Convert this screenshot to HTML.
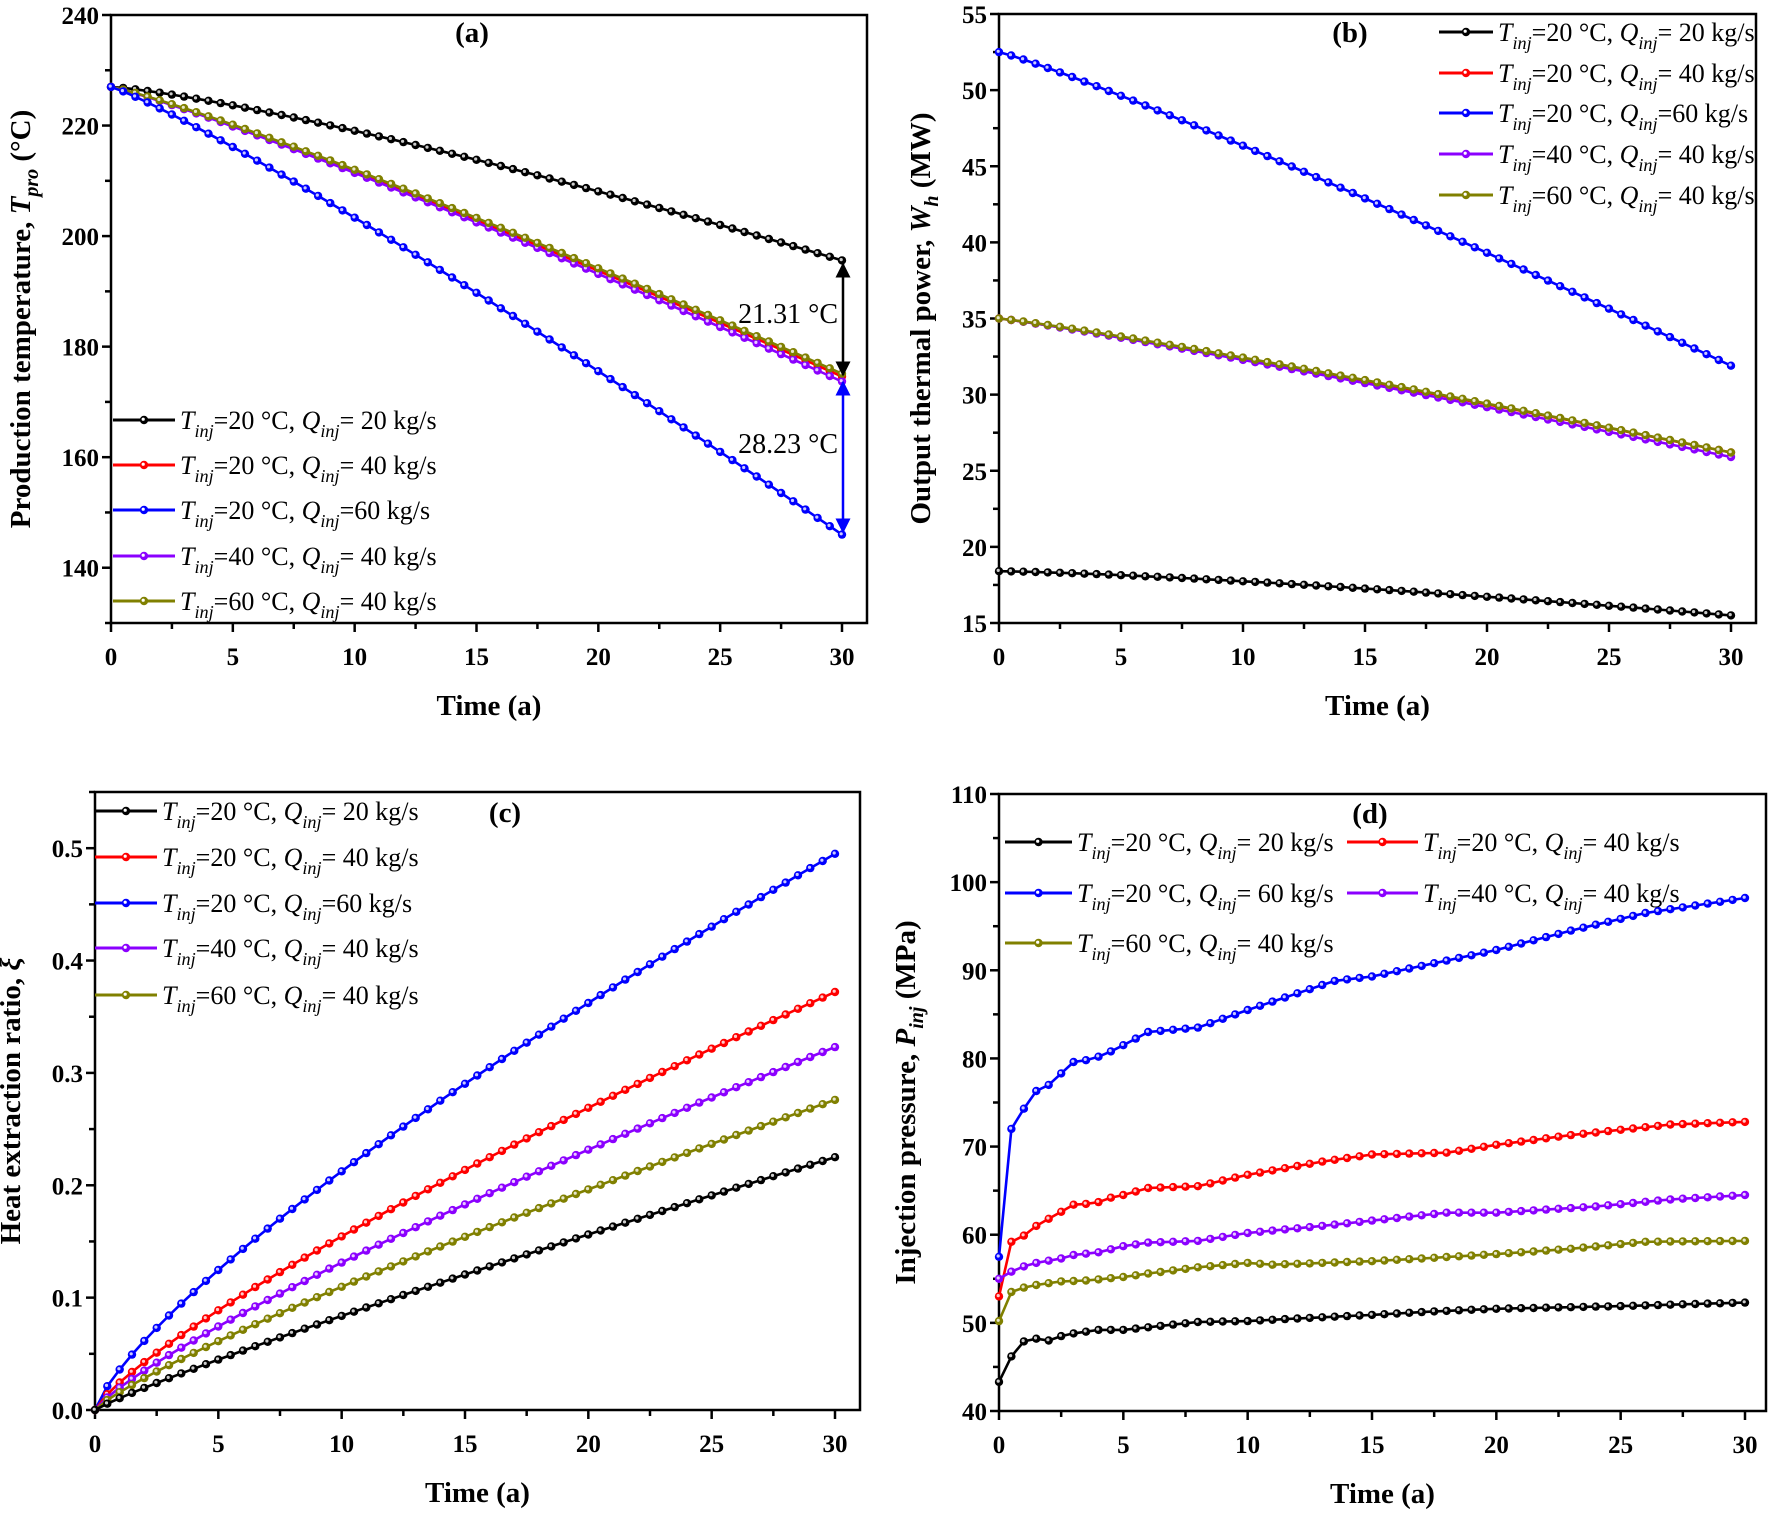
<!DOCTYPE html>
<html><head><meta charset="utf-8"><style>
html,body{margin:0;padding:0;background:#fff;}
svg{display:block;font-family:"Liberation Serif",serif;}
</style></head><body>
<svg id="s" width="1771" height="1514" viewBox="0 0 1771 1514" xmlns="http://www.w3.org/2000/svg"></svg>
<script>
const S=document.getElementById('s');let out='';
const C={k:'#000',r:'#f00',b:'#0000ff',p:'#8b00ff',o:'#808000'};
function lin(pts,t){for(let i=0;i<pts.length-1;i++){if(t<=pts[i+1][0]){const a=pts[i],b=pts[i+1];return a[1]+(b[1]-a[1])*(t-a[0])/(b[0]-a[0]);}}return pts[pts.length-1][1];}
function panel(P){
 const X=t=>P.x0+(P.x30-P.x0)*t/30, Y=v=>P.B-(v-P.ymin)*(P.B-P.T)/(P.ymax-P.ymin);
 P.X=X;P.Y=Y;
 out+=`<rect x="${P.L}" y="${P.T}" width="${P.R-P.L}" height="${P.B-P.T}" fill="none" stroke="#000" stroke-width="2.5"/>`;
 for(let t=0;t<=30.01;t+=2.5){const maj=Math.abs(t%5)<0.01;out+=`<line x1="${X(t)}" y1="${P.B}" x2="${X(t)}" y2="${P.B+(maj?9:6)}" stroke="#000" stroke-width="2.5"/>`;
  if(maj)out+=`<text x="${X(t)}" y="${P.B+42}" font-size="25" font-weight="bold" text-anchor="middle">${t}</text>`;}
 for(let v=P.ymin;v<=P.ymax+1e-9;v+=P.minor){const k=Math.round((v-P.ymin)/P.minor);const maj=k%2==(P.majOff||0);
  out+=`<line x1="${P.L-(maj?9:6)}" y1="${Y(v)}" x2="${P.L}" y2="${Y(v)}" stroke="#000" stroke-width="2.5"/>`;
  if(maj&&v>=P.labMin-1e-9&&v<=P.labMax+1e-9)out+=`<text x="${P.L-12}" y="${Y(v)+9}" font-size="25" font-weight="bold" text-anchor="end">${P.fmt(v)}</text>`;}
 out+=`<text x="${(P.L+P.R)/2}" y="${P.B+92}" font-size="29" font-weight="bold" text-anchor="middle">Time (a)</text>`;
 out+=`<text transform="translate(${P.ylx},${(P.T+P.B)/2}) rotate(-90)" font-size="29" font-weight="bold" text-anchor="middle">${P.ylab}</text>`;
 out+=`<text x="${P.lx}" y="${P.ly}" font-size="29" font-weight="bold" text-anchor="middle">${P.lab}</text>`;
}
function series(P,col,f){let d='',m='';for(let i=0;i<=60;i++){const t=i/2,x=P.X(t),y=P.Y(f(t));d+=(i?'L':'M')+x.toFixed(1)+' '+y.toFixed(1);
 m+=`<circle cx="${x.toFixed(1)}" cy="${y.toFixed(1)}" r="4.2" fill="${col}"/><circle cx="${(x-0.8).toFixed(1)}" cy="${(y-0.8).toFixed(1)}" r="1.6" fill="#fff" opacity="0.8"/>`;}
 out+=`<path d="${d}" fill="none" stroke="${col}" stroke-width="2.6"/>`+m;}
function leg(x1,x2,y,col,tv,qv,fs){out+=`<line x1="${x1}" y1="${y}" x2="${x2}" y2="${y}" stroke="${col}" stroke-width="3"/><circle cx="${(x1+x2)/2}" cy="${y}" r="4.2" fill="${col}"/><circle cx="${(x1+x2)/2-0.8}" cy="${y-0.8}" r="1.6" fill="#fff"/>`;
 out+=`<text x="${x2+5}" y="${y+9}" font-size="${fs}"><tspan font-style="italic">T</tspan><tspan font-style="italic" font-size="${fs*0.7}" dy="8">inj</tspan><tspan dy="-8">=${tv} °C, </tspan><tspan font-style="italic">Q</tspan><tspan font-style="italic" font-size="${fs*0.7}" dy="8">inj</tspan><tspan dy="-8">=${qv} kg/s</tspan></text>`;}
const LG=[['k',20,' 20'],['r',20,' 40'],['b',20,'60'],['p',40,' 40'],['o',60,' 40']];
const pw=(a,b,p)=>t=>a-(a-b)*Math.pow(t/30,p);
// (a)
const A={L:111,R:867,T:15,B:623,x0:111,x30:842,ymin:130,ymax:240,minor:10,majOff:1,labMin:140,labMax:240,fmt:v=>v,ylx:30,ylab:'Production temperature, <tspan font-style="italic">T</tspan><tspan font-style="italic" font-size="20" dy="8">pro</tspan><tspan dy="-8"> (°C)</tspan>',lab:'(a)',lx:472,ly:42};
panel(A);
series(A,C.k,pw(227,195.6,1.25));series(A,C.r,pw(227,174.6,1.12));series(A,C.p,pw(227,173.7,1.12));series(A,C.o,pw(227,175.1,1.13));series(A,C.b,pw(227,146,1.12));
out+=`<defs><marker id="ak" viewBox="0 0 10 10" refX="9" refY="5" markerWidth="6" markerHeight="6" orient="auto-start-reverse"><path d="M0 0L10 5L0 10z" fill="#000"/></marker><marker id="ab" viewBox="0 0 10 10" refX="9" refY="5" markerWidth="6" markerHeight="6" orient="auto-start-reverse"><path d="M0 0L10 5L0 10z" fill="#0000ff"/></marker></defs>`;
out+=`<line x1="843" y1="264" x2="843" y2="375" stroke="#000" stroke-width="2.5" marker-start="url(#ak)" marker-end="url(#ak)"/>`;
out+=`<line x1="843" y1="382" x2="843" y2="532" stroke="#0000ff" stroke-width="2.5" marker-start="url(#ab)" marker-end="url(#ab)"/>`;
out+=`<text x="838" y="323" font-size="28" text-anchor="end">21.31 °C</text><text x="838" y="453" font-size="28" text-anchor="end">28.23 °C</text>`;
[420,465,510,556,601].forEach((y,i)=>leg(113,175,y,C[LG[i][0]],LG[i][1],LG[i][2],26));
// (b)
const B={L:999,R:1756,T:14,B:623,x0:999,x30:1731,ymin:15,ymax:55,minor:2.5,labMin:15,labMax:55,fmt:v=>v,ylx:930,ylab:'Output thermal power, <tspan font-style="italic">W</tspan><tspan font-style="italic" font-size="20" dy="8">h</tspan><tspan dy="-8"> (MW)</tspan>',lab:'(b)',lx:1350,ly:42};
panel(B);
series(B,C.b,pw(52.5,31.9,1.1));series(B,C.r,pw(35,26.2,1.1));series(B,C.p,pw(35,25.9,1.1));series(B,C.o,pw(35,26.2,1.12));series(B,C.k,pw(18.4,15.5,1.35));
[32,73,113,154,195].forEach((y,i)=>leg(1439,1493,y,C[LG[i][0]],LG[i][1],LG[i][2],26));
// (c)
const Cp={L:95,R:860,T:792,B:1410,x0:95,x30:835,ymin:0,ymax:0.55,minor:0.05,labMin:0,labMax:0.5,fmt:v=>v.toFixed(1),ylx:20,ylab:'Heat extraction ratio, <tspan font-style="italic">ξ</tspan>',lab:'(c)',lx:505,ly:822};
panel(Cp);
const pc=(b,p)=>t=>b*Math.pow(t/30,p);
series(Cp,C.b,pc(0.495,0.77));series(Cp,C.r,pc(0.372,0.8));series(Cp,C.p,pc(0.323,0.82));series(Cp,C.o,pc(0.276,0.84));series(Cp,C.k,pc(0.225,0.9));
[811,857,903,948,995].forEach((y,i)=>leg(95,157,y,C[LG[i][0]],LG[i][1],LG[i][2],26));
// (d)
const D={L:999,R:1766,T:794,B:1411,x0:999,x30:1745,ymin:40,ymax:110,minor:5,labMin:40,labMax:110,fmt:v=>v,ylx:915,ylab:'Injection pressure, <tspan font-style="italic">P</tspan><tspan font-style="italic" font-size="20" dy="8">inj</tspan><tspan dy="-8"> (MPa)</tspan>',lab:'(d)',lx:1370,ly:823};
panel(D);
const db=[[0,57.5],[.5,72],[1,74.3],[1.5,76.3],[2,77],[2.5,78.3],[3,79.6],[3.5,79.8],[4,80.2],[4.5,80.8],[5,81.5],[6,83],[8,83.5],[10,85.5],[13.5,88.8],[15,89.3],[17,90.5],[20,92.3],[23,94.5],[26,96.5],[30,98.2]];
const dr=[[0,53],[.5,59.2],[1,59.9],[1.5,61],[2,61.8],[2.5,62.6],[3,63.4],[3.5,63.5],[4,63.7],[4.5,64.2],[5,64.5],[6,65.3],[8,65.5],[10,66.8],[13,68.3],[15,69.1],[18,69.3],[20,70.2],[23,71.3],[27,72.5],[30,72.8]];
const dp=[[0,55],[.5,55.8],[1,56.4],[1.5,56.8],[2.5,57.3],[3,57.7],[4,58],[5,58.7],[6,59.1],[8,59.3],[10,60.2],[13,61],[15,61.6],[18,62.5],[20,62.5],[24,63.2],[27,64],[30,64.5]];
const dol=[[0,50.2],[.5,53.5],[1,54],[1.5,54.3],[2.5,54.7],[3.5,54.8],[5,55.2],[6,55.6],[8,56.3],[10,56.8],[11,56.6],[13,56.8],[15,57],[17,57.3],[20,57.8],[23,58.4],[26,59.2],[30,59.3]];
const dk=[[0,43.3],[.5,46.2],[1,47.9],[1.5,48.2],[2,48],[2.5,48.5],[3,48.8],[4,49.2],[5,49.2],[6,49.5],[8,50.1],[10,50.2],[12,50.5],[15,50.9],[17.5,51.3],[20,51.6],[25,51.9],[30,52.3]];
series(D,C.b,t=>lin(db,t));series(D,C.r,t=>lin(dr,t));series(D,C.p,t=>lin(dp,t));series(D,C.o,t=>lin(dol,t));series(D,C.k,t=>lin(dk,t));
leg(1005,1072,842,C.k,20,' 20',26);leg(1347,1418,842,C.r,20,' 40',26);
leg(1005,1072,893,C.b,20,' 60',26);leg(1347,1418,893,C.p,40,' 40',26);
leg(1005,1072,943,C.o,60,' 40',26);
S.innerHTML=out;
</script>
</body></html>
